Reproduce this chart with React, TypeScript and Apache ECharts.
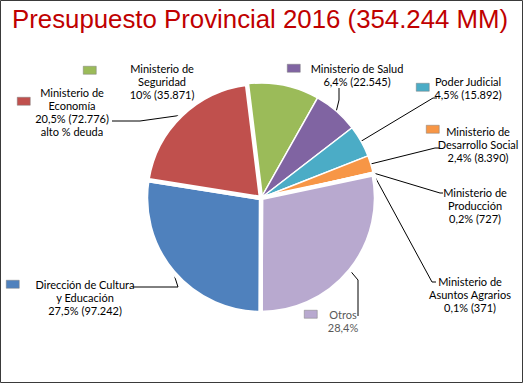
import React, { useEffect, useRef } from "react";
import * as echarts from "echarts";

const categories = [
  "Ministerio de Seguridad",
  "Ministerio de Salud",
  "Poder Judicial",
  "Ministerio de Desarrollo Social",
  "Ministerio de Producción",
  "Ministerio de Asuntos Agrarios",
  "Otros",
  "Dirección de Cultura y Educación",
  "Ministerio de Economía",
];
const values = [35871, 22545, 15892, 8390, 727, 371, 100430, 97242, 72776];
const labelTexts = [
  "Ministerio de\nSeguridad\n10% (35.871)",
  "Ministerio de Salud\n6,4% (22.545)",
  "Poder Judicial\n4,5% (15.892)",
  "Ministerio de\nDesarrollo Social\n2,4% (8.390)",
  "Ministerio de\nProducción\n0,2% (727)",
  "Ministerio de\nAsuntos Agrarios\n0,1% (371)",
  "Otros\n28,4%",
  "Dirección de Cultura\ny Educación\n27,5% (97.242)",
  "Ministerio de\nEconomía\n20,5% (72.776)\nalto % deuda",
];
const colors = ["#9BBB59", "#8064A2", "#4BACC6", "#F79646", "#D9D2E4", "#E6E0EE", "#B8A9CF", "#4F81BD", "#C0504D"];
const exploded = [false, false, false, false, false, false, true, true, true];
const legendIdx = [0, 8, 1, 2, 3, 7, 6];

// layout: label anchor (center x, top y) and guide line points after the sector start
const labelPos: { x: number; y: number; line: number[][] | null; color?: string }[] = [
  { x: 162, y: 62, line: null },
  { x: 357, y: 62, line: [[339, 100], [339, 88]] },
  { x: 468, y: 75, line: [[433, 98], [437, 98]] },
  { x: 478, y: 125, line: [[435, 148], [439, 148]] },
  { x: 475, y: 186, line: [[440, 193], [443, 193]] },
  { x: 470, y: 275, line: [[432, 282], [436, 282]] },
  { x: 343, y: 308, line: [[358, 280], [358, 316]], color: "#595959" },
  { x: 85, y: 278, line: [[178, 287], [133, 287]] },
  { x: 72, y: 86, line: [[140, 121], [112, 121]] },
];
const legendPos = [
  { x: 83, y: 66 },
  { x: 17, y: 97 },
  { x: 287, y: 64 },
  { x: 416, y: 83 },
  { x: 426, y: 125 },
  { x: 6, y: 280 },
  { x: 304, y: 310 },
];

export default function App() {
  const ref = useRef<HTMLDivElement>(null);
  useEffect(() => {
    if (!ref.current) return;
    const chart = echarts.init(ref.current, null, { renderer: "svg" });
    const data = categories.map((name, i) => ({
      name,
      value: values[i],
      itemStyle: { color: colors[i], borderWidth: exploded[i] ? 4.5 : 1.5 },
      label: { color: labelPos[i].color || "#000" },
      labelLine: { show: labelPos[i].line != null },
    }));
    const legends = legendIdx.map((di, k) => ({
      data: [categories[di]],
      left: legendPos[k].x,
      top: legendPos[k].y,
      padding: 0,
      itemWidth: 13,
      itemHeight: 8,
      icon: "rect",
      selectedMode: false,
      formatter: () => "",
      textStyle: { fontSize: 1 },
      itemStyle: { borderColor: "#7f7f7f", borderWidth: 0.5 },
    }));
    chart.setOption({
      animation: false,
      backgroundColor: "#fff",
      title: {
        text: "Presupuesto Provincial 2016 (354.244 MM)",
        left: 12,
        top: 6,
        padding: 0,
        textStyle: { color: "#C00000", fontSize: 25.8, fontWeight: "normal", fontFamily: "Liberation Sans" },
      },
      legend: legends,
      graphic: [
        {
          type: "rect",
          shape: { x: 0.5, y: 0.5, width: 522, height: 382 },
          style: { fill: "none", stroke: "#3a3a3a", lineWidth: 1 },
          silent: true,
        },
      ],
      series: [
        {
          type: "pie",
          center: [261, 198],
          radius: 115,
          startAngle: 97,
          clockwise: true,
          avoidLabelOverlap: false,
          emphasis: { disabled: true },
          itemStyle: { borderColor: "#fff", borderWidth: 1.5 },
          label: {
            show: true,
            position: "outside",
            fontFamily: "Lato",
            fontSize: 11,
            lineHeight: 13,
            align: "center",
            formatter: (p: any) => labelTexts[p.dataIndex],
          },
          labelLine: { show: true, length: 10, length2: 10, lineStyle: { color: "#000", width: 1 } },
          labelLayout: (params: any) => {
            const lp = labelPos[params.dataIndex];
            const res: any = { x: lp.x, y: lp.y, align: "center", verticalAlign: "top" };
            if (lp.line && params.labelLinePoints && params.labelLinePoints.length) {
              const start = params.labelLinePoints[0];
              res.labelLinePoints = [start, ...lp.line];
            }
            return res;
          },
          data,
        },
      ],
    });
    return () => chart.dispose();
  }, []);
  return <div ref={ref} style={{ position: "absolute", left: 0, top: 0, width: 523, height: 383, background: "#fff" }} />;
}
